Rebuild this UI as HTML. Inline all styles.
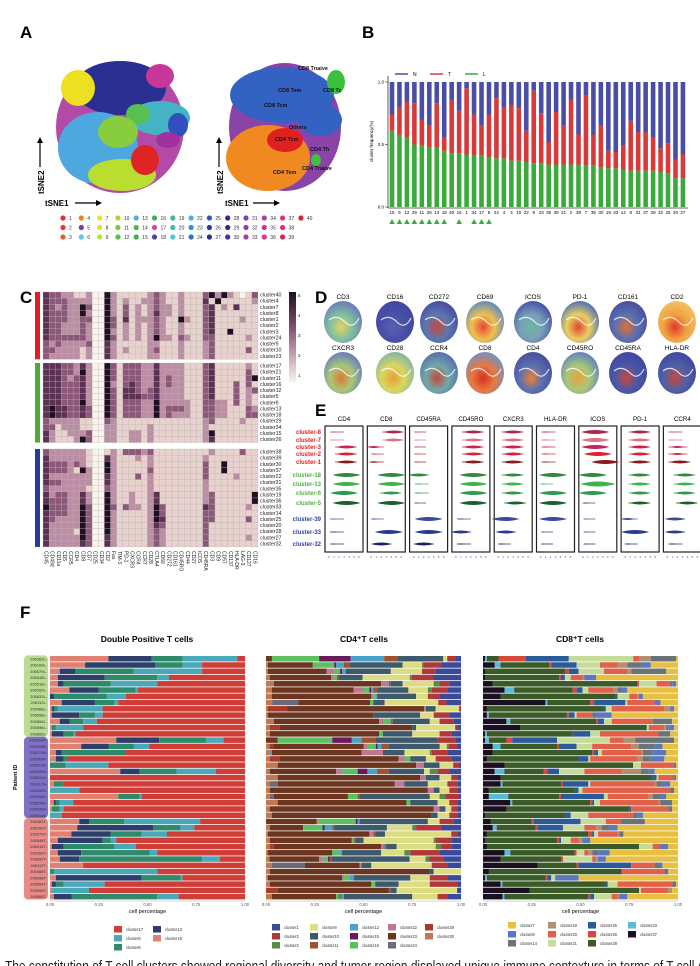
<!DOCTYPE html>
<html><head><meta charset="utf-8">
<style>
html,body{margin:0;padding:0;background:#fff;}
svg{display:block;font-family:"Liberation Sans",sans-serif;}
</style></head>
<body>
<svg id="fig" width="700" height="966" viewBox="0 0 700 966" xmlns="http://www.w3.org/2000/svg">
<defs>
<linearGradient id="cbar" x1="0" y1="0" x2="0" y2="1">
<stop offset="0" stop-color="#1e1020"/><stop offset="0.35" stop-color="#7a4468"/><stop offset="0.7" stop-color="#c8a0b4"/><stop offset="1" stop-color="#fbf4ea"/>
</linearGradient>
</defs>
<g>
<text x="20" y="38" font-size="17" font-weight="bold">A</text>
<g>
<ellipse cx="120" cy="127" rx="64" ry="66" fill="#b34aa8"/>
<ellipse cx="120" cy="88" rx="46" ry="27" fill="#2c2f92"/>
<ellipse cx="160" cy="76" rx="14" ry="12" fill="#c83898"/>
<ellipse cx="78" cy="88" rx="17" ry="18" fill="#ece020"/>
<ellipse cx="160" cy="118" rx="30" ry="17" fill="#44b4c4"/>
<ellipse cx="138" cy="114" rx="12" ry="10" fill="#58c050"/>
<ellipse cx="98" cy="148" rx="40" ry="36" fill="#4ea8e0"/>
<ellipse cx="118" cy="132" rx="20" ry="16" fill="#88cc40"/>
<ellipse cx="122" cy="175" rx="34" ry="16" fill="#bade30"/>
<ellipse cx="145" cy="160" rx="14" ry="15" fill="#e02424"/>
<ellipse cx="178" cy="125" rx="10" ry="12" fill="#3050c0"/>
<ellipse cx="168" cy="140" rx="12" ry="8" fill="#a030a0"/>
</g>
<g>
<ellipse cx="285" cy="127" rx="56" ry="64" fill="#8a44a8"/>
<ellipse cx="282" cy="95" rx="52" ry="28" fill="#3462c2"/>
<ellipse cx="320" cy="120" rx="22" ry="16" fill="#3462c2"/>
<ellipse cx="336" cy="82" rx="9" ry="12" fill="#3cc040"/>
<ellipse cx="268" cy="158" rx="42" ry="33" fill="#f08a20"/>
<ellipse cx="285" cy="140" rx="18" ry="12" fill="#e02020"/>
<ellipse cx="316" cy="160" rx="5" ry="6" fill="#40c040"/>
<g font-size="5.5" font-weight="bold" fill="#111">
<text x="298" y="70">CD8 Tnaive</text><text x="278" y="92">CD8 Tem</text><text x="323" y="92">CD8 Tc</text>
<text x="264" y="107">CD8 Tcm</text><text x="289" y="129">Others</text><text x="275" y="141">CD4 Tcm</text>
<text x="310" y="151">CD4 Th</text><text x="302" y="170">CD4 Tnaive</text><text x="273" y="174">CD4 Tem</text>
</g>
</g>
<g font-size="8" font-weight="bold">
<line x1="40" y1="167" x2="40" y2="142" stroke="#000" stroke-width="1.2"/><polygon points="37,143 43,143 40,137" fill="#000"/>
<text transform="translate(44,194) rotate(-90)">tSNE2</text>
<text x="45" y="206">tSNE1</text>
<line x1="75" y1="203" x2="97" y2="203" stroke="#000" stroke-width="1.2"/><polygon points="96,200 96,206 102,203" fill="#000"/>
<line x1="219" y1="167" x2="219" y2="142" stroke="#000" stroke-width="1.2"/><polygon points="216,143 222,143 219,137" fill="#000"/>
<text transform="translate(223,194) rotate(-90)">tSNE2</text>
<text x="225" y="206">tSNE1</text>
<line x1="253" y1="203" x2="275" y2="203" stroke="#000" stroke-width="1.2"/><polygon points="274,200 274,206 280,203" fill="#000"/>
</g>
<g id="aLegend"></g>
</g>
<g id="panelB">
<text x="362" y="38" font-size="17" font-weight="bold">B</text>
</g>
<g id="panelC">
<text x="20" y="303" font-size="17" font-weight="bold">C</text>
<rect x="289" y="292" width="7" height="90" fill="url(#cbar)"/>
<g font-size="4.5" fill="#222"><text x="298" y="297">5</text><text x="298" y="317">4</text><text x="298" y="337">3</text><text x="298" y="357">2</text><text x="298" y="377">1</text></g>
</g>
<g id="panelD">
<text x="315" y="303" font-size="17" font-weight="bold">D</text>
</g>
<g id="panelE">
<text x="315" y="416" font-size="17" font-weight="bold">E</text>
</g>
<g id="panelF">
<text x="20" y="618" font-size="17" font-weight="bold">F</text>
<text x="147" y="642" font-size="8.5" font-weight="bold" text-anchor="middle">Double Positive T cells</text>
<text x="364" y="642" font-size="8.5" font-weight="bold" text-anchor="middle">CD4⁺T cells</text>
<text x="580" y="642" font-size="8.5" font-weight="bold" text-anchor="middle">CD8⁺T cells</text>
<text transform="translate(17,790) rotate(-90)" font-size="5.5" font-weight="bold">Patient ID</text>
</g>
<text x="5" y="971" font-size="15" fill="#222" textLength="700" lengthAdjust="spacingAndGlyphs">The constitution of T cell clusters showed regional diversity and tumor region displayed unique immune contexture in terms of T cell A</text>
</svg>
<script>
// ---------- DATA ----------
const aClusterColors=["#e03030","#e03a30","#e85a2a","#f08020","#7a3ab0","#5ac8d8","#f0e020","#e4e020","#c0e030","#a8d830","#78c840","#60c040","#58a8e0","#48b848","#40b040","#3cb050","#e040a0","#5040b0","#40b8a0","#40b8b0","#50c8d0","#48b0e8","#3090e0","#3070d0","#3050c0","#2838a8","#283090","#283088","#302890","#4030a0","#8040b0","#8a40a8","#9a40a8","#b040a0","#c03898","#d83890","#e03080","#e03070","#e02050","#e02030"];
const bCategories=["15","5","12","29","11","26","13","18","40","16","1","34","17","6","24","4","3","10","22","9","23","36","39","21","2","38","7","35","30","19","33","14","8","31","37","28","32","25","20","27"];
const bL=[.61,.57,.56,.50,.49,.48,.48,.45,.43,.43,.42,.41,.41,.40,.39,.39,.37,.37,.36,.35,.35,.34,.34,.34,.34,.34,.33,.33,.32,.31,.31,.30,.29,.29,.29,.29,.28,.27,.23,.23];
const bT=[.13,.23,.28,.33,.21,.17,.35,.11,.43,.34,.53,.33,.24,.34,.48,.41,.45,.42,.25,.58,.40,.18,.42,.31,.52,.24,.56,.25,.33,.14,.13,.19,.40,.31,.31,.27,.19,.24,.15,.19];
const bMarked=[1,1,1,1,1,1,1,1,0,1,0,1,1,1,0,0,0,0,0,0,0,0,0,0,0,0,0,0,0,0,0,0,0,0,0,0,0,0,0,0];
const bTicks=[0,0.5,1];
const cMarkers=["CD45","CD49d","CD11a","CD5","CCR5","CD4","CD8","CD7","CD25","CD34","CD2","Fas","TIM-3","PD-1","CXCR3","CCR4","CCR7","CD28","CTLA4","CD69","CD272","CD161","CD45RO","CD44","CD27","ICOS","CD45RA","CD3","CD9","CD57","CD137","HLA-DR","LAG-3","CD127","CD16"];
const cRows1=["cluster40","cluster4","cluster7","cluster8","cluster1","cluster2","cluster3","cluster24","cluster9","cluster10","cluster23"];
const cRows2=["cluster17","cluster21","cluster11","cluster16","cluster12","cluster5","cluster6","cluster13","cluster18","cluster29","cluster34","cluster15","cluster26"];
const cRows3=["cluster38","cluster39","cluster30","cluster37","cluster22","cluster31","cluster35","cluster19","cluster36","cluster33","cluster14","cluster25","cluster20","cluster28","cluster27","cluster32"];
const cVals1=["43322 11200 52111 11232 11211 13525 21013","43332 22200 52121 12232 11211 14151 11112","43232 25300 52131 21232 21211 13412 14111","43332 25200 52131 21242 21211 13411 11111","43332 23300 53141 22232 11521 13411 11211","43322 23200 53121 21232 11211 13411 11111","43322 23200 52121 21232 11211 13411 51111","43333 33200 53121 21252 21321 13311 11121","32322 22300 42111 11221 11211 12311 11111","33222 21200 42121 11231 11211 12311 11131","32222 21200 42111 11221 11211 12311 11111"];
const cVals2=["44433 24200 53133 32242 22211 13411 11121","44433 25200 53133 32242 22211 13411 11131","44432 34200 53133 32242 32211 13411 11135","44433 34200 52134 32242 32211 13411 13131","44433 34200 53144 32342 22211 13411 13123","44433 34200 53144 43342 22211 13411 13121","44433 35200 53133 32252 22221 13322 13121","45443 34300 53133 32252 33321 13322 11132","45443 34300 53133 32252 32221 13322 11133","32222 21100 32111 11111 11111 12311 11211","33122 21100 22111 11211 11111 12111 11111","42112 22300 22112 21211 11111 12511 11111","42111 25300 22112 21211 11111 12411 11111"];
const cVals3=["32222 22100 12133 32311 11111 11211 11311","42222 22100 42111 21211 11111 12111 11111","43332 32100 52111 11211 11111 13115 11111","43332 15200 52111 11311 11111 13115 11111","42222 22200 42111 31211 11111 13111 12111","43322 22200 42111 11211 11111 12111 11111","32222 22100 32111 11211 11111 12111 11111","42332 24200 52112 11241 11111 12311 11115","43332 24200 52112 11241 11111 12311 11115","53332 25300 53132 21253 11111 14311 11121","43332 25300 52111 11253 11111 13311 11111","43222 25300 52111 11254 11111 13311 11131","42222 25300 52111 11243 11111 13111 11111","42222 15300 52111 11232 11111 13111 11111","42222 25300 42111 11232 11111 13111 11121","42222 24300 42111 11232 11111 13111 11111"];
const dMarkers1=["CD3","CD16","CD272","CD69","ICOS","PD-1","CD161","CD2"];
const dMarkers2=["CXCR3","CD28","CCR4","CD8","CD4","CD45RO","CD45RA","HLA-DR"];
const dColors1=[["#e8d060","#80c0a0","#6a80b8"],["#5a60b0","#4a50a8","#4048a0"],["#c84838","#5a78b0","#4a50a0"],["#e84830","#f0c050","#6a90b8"],["#6ab8a0","#78a0b8","#4a58a8"],["#e04830","#e8d060","#5a78b0"],["#e07030","#5a70b0","#4a50a0"],["#e03828","#f0a040","#f0c060"]];
const dColors2=[["#e07838","#a8c878","#6a80b8"],["#e8a030","#d8d860","#88b8a0"],["#c84838","#70a8a8","#5a70b0"],["#d83020","#e87840","#7a90b8"],["#f08030","#5a70b0","#4a50a0"],["#e8a040","#a8c878","#6a88b8"],["#c84838","#4a58a8","#4048a0"],["#c84838","#5060a8","#4048a0"]];
const eMarkers=["CD4","CD8","CD45RA","CD45RO","CXCR3","HLA-DR","ICOS","PD-1","CCR4"];
const eClusters=["cluster-8","cluster-7","cluster-3","cluster-2","cluster-1","cluster-18","cluster-13","cluster-6","cluster-5","cluster-39","cluster-33","cluster-32"];
const eMed=[
[1,1,3.5,3.5,3.5,3.5,3.5,3,3.5,1,1,1],
[4.5,4.5,0.5,0.5,0.5,4,4,4,4,0.5,3.5,2],
[0.5,0.5,0.5,0.5,0.5,1,1,1,0.5,3,3,2],
[3.5,3.5,3.5,3.5,3.5,3.5,3.5,3.5,3.5,1,1,1],
[3,3,3,3,3,3,3,3,3.5,1.5,1.5,0.5],
[1,1,1,1,1,2.5,0.5,2.5,2.5,2.5,0.5,0.5],
[2.5,2.5,2.5,3,4.5,2,3,2,0.5,0.5,0.5,0.5],
[3,3,3,3,3,3,3,3,3,0.5,2,0.5],
[1,1,2,2,2.5,3.5,3.5,3.5,4,1.5,1.5,1]];
const eAmp=[
[0.5,0.5,3,3,3,4,4,4,4,0.5,1,0.5],
[3,3,2,1,1.5,4,4,3,4,1,4,3],
[0.5,0.5,0.5,0.5,0.5,3,1,1,0.5,4,4,3],
[3,3,3,3,3,4,4,4,4,1,3,1],
[3,3,3,3,3,3,3,3,3,4,3,1],
[1,1,1,1,1,4,1,4,4,4,0.5,0.5],
[4,4,4,4,4,4,5,4,1,0.5,0.5,0.5],
[3,3,3,3,3,3,3,3,3,2,4,1],
[0.5,0.5,2,2,3,3,3,3,3,3,3,1]];
const fPatients=["206363","206169","205579","205548","205516","206260","205832","206112","205468","206998","205854","205596","205866"];
const fC18=[.30,.18,.05,.04,.04,.10,.00,.06,.01,.01,.05,.01,.01,.34,.16,.03,.03,.00,.36,.00,.02,.00,.35,.02,.01,.00,.15,.14,.11,.04,.01,.04,.05,.17,.00,.03,.01,.01,.02];
const fC13=[.22,.36,.08,.24,.03,.15,.02,.17,.01,.14,.05,.00,.06,.22,.14,.03,.04,.00,.10,.00,.00,.00,.00,.01,.00,.00,.05,.39,.20,.23,.06,.12,.10,.00,.00,.44,.02,.00,.09];
const fC6=[.16,.14,.30,.27,.24,.19,.27,.10,.02,.08,.07,.02,.05,.24,.13,.33,.02,.08,.19,.00,.05,.00,.11,.02,.04,.00,.18,.14,.16,.04,.26,.35,.63,.00,.02,.20,.04,.00,.44];
const fC5=[.28,.10,.35,.06,.24,.01,.10,.02,.23,.04,.07,.14,.01,.09,.08,.00,.00,.22,.20,.00,.00,.15,.01,.07,.02,.06,.39,.07,.13,.03,.11,.04,.09,.00,.53,.01,.21,.19,.11];
const fTicks=["0.00","0.25","0.50","0.75","1.00"];
const cd4Keys={a:"cluster1",b:"cluster2",c:"cluster3",i:"cluster9",j:"cluster10",k:"cluster11",l:"cluster12",o:"cluster15",p:"cluster16",v:"cluster22",w:"cluster23",x:"cluster24",y:"cluster29",z:"cluster30"};
const cd4Rows=["w.03 p.24 o.16 l.17 k.07 j.23 i.02 b.04 a.03","z.01 w.23 p.11 o.01 l.04 k.03 j.27 i.10 c.01 b.09 a.10","z.01 w.30 v.04 p.03 o.01 l.02 j.23 i.16 b.07 a.13","z.02 w.31 v.01 p.02 k.01 j.12 i.24 c.01 b.11 a.14","z.04 w.55 v.03 l.01 k.01 j.06 i.16 c.03 b.05 a.06","z.03 w.42 v.05 p.03 o.01 l.01 k.02 j.16 i.10 c.02 b.08 a.07","z.03 w.51 v.01 p.01 l.01 j.20 i.06 b.06 a.11","z.04 x.16 w.44 p.02 j.07 i.33 b.05 a.09","z.01 y.10 w.70 v.01 j.05 i.12 b.01","z.01 w.54 j.24 i.07 b.08 a.06","z.04 w.54 v.02 p.04 k.01 j.19 i.05 b.07 a.04","z.02 y.05 w.68 j.02 i.20 b.01 a.02","z.02 w.56 p.02 j.15 i.14 b.06 a.05","w.06 p.28 o.10 l.05 k.07 j.32 b.09 a.03","z.02 y.02 w.51 v.02 p.05 o.01 l.02 k.04 j.29 i.04 c.01 b.05 a.02","z.02 l.01 w.46 v.11 j.11 i.13 c.01 b.08 a.07","z.02 y.05 w.61 v.03 p.03 j.08 i.05 b.08 a.05","z.06 w.71 v.04 j.08 i.07 b.03 a.01","z.02 w.34 v.03 p.08 o.05 l.05 k.06 j.18 i.03 c.04 b.06 a.06","z.06 w.73 v.03 j.07 i.06 b.03 a.02","z.02 x.04 w.60 v.05 j.12 i.10 b.05 a.02","z.02 w.81 v.03 j.03 i.05 b.04 a.02","z.02 x.02 w.38 p.05 k.01 j.36 i.05 c.03 b.07 a.01","z.06 w.66 p.02 j.14 i.06 b.04 a.02","z.02 w.84 v.03 j.03 i.03 b.03 a.02","z.03 w.82 j.03 i.06 b.04 a.02","w.26 v.01 p.19 o.01 l.01 j.35 i.06 b.07 a.04","z.02 w.17 p.10 o.01 l.04 k.01 j.27 i.13 c.02 b.13 a.10","z.01 w.52 v.02 k.01 j.05 i.34 b.03 a.02","z.02 w.42 p.01 k.01 j.04 i.36 c.01 b.08 a.05","z.02 y.02 w.55 v.01 l.01 k.01 j.05 i.20 c.03 b.05 a.05","z.01 w.33 p.04 l.01 j.20 i.12 c.03 b.15 a.11","z.02 w.28 v.02 p.03 o.01 k.01 j.44 i.09 c.02 b.08 a.10","z.03 x.17 w.28 v.01 j.05 i.31 b.08 a.07","z.02 w.82 j.02 i.14","z.01 w.38 v.01 p.03 l.02 j.29 i.10 b.09 a.07","z.02 w.52 p.02 j.12 i.16 b.14 a.02","y.06 w.57 k.01 j.03 i.31 a.02","z.03 w.33 p.01 c.02 l.01 j.35 i.13 b.05 a.07"];
const cd8Keys={A:"cluster37",B:"cluster33",C:"cluster28",D:"cluster26",E:"cluster25",F:"cluster21",G:"cluster20",H:"cluster19",I:"cluster14",J:"cluster8",K:"cluster7"};
const cd8Rows=["A.01 B.01 C.06 D.14 E.22 F.33 G.03 H.06 I.13 K.01","A.06 B.03 C.25 D.01 E.13 F.12 G.09 H.05 I.07 J.05 K.14","A.01 C.41 D.02 E.05 F.13 G.12 H.02 I.18 K.06","A.01 C.38 D.01 E.02 F.03 G.06 H.01 J.06 K.42","A.05 C.74 D.01 F.09 G.07 I.01 J.02 K.01","A.11 B.05 C.30 D.02 E.03 F.03 G.13 H.02 I.02 J.03 K.26","A.09 C.59 E.01 F.06 G.04 H.01 J.02 K.18","A.32 B.01 C.22 D.02 E.16 F.01 G.14 J.03 K.09","A.02 C.60 E.01 F.03 G.27 H.03 J.02 K.02","A.02 B.01 C.40 D.01 E.03 F.01 G.08 I.02 J.08 K.34","A.12 B.02 C.44 D.01 E.03 F.04 G.21 I.10 K.03","A.19 C.65 F.01 G.08 H.01 I.01 J.03 K.02","A.01 B.01 C.44 E.09 F.05 G.30 I.06 K.04","A.01 B.02 C.09 D.03 E.23 F.27 G.07 H.06 I.20 K.02","A.05 B.04 C.29 D.01 E.09 F.08 G.20 H.04 I.08 J.04 K.08","A.05 C.51 D.01 E.02 F.02 G.20 H.01 I.05 J.07 K.06","A.02 C.47 E.05 F.01 G.24 H.03 I.04 J.07 K.07","A.11 C.66 F.04 G.17 I.01 K.01","A.06 B.05 C.20 D.02 E.06 F.13 G.19 H.10 I.04 J.03 K.12","A.09 C.78 E.02 F.01 G.08 I.01 K.01","A.09 B.01 C.30 D.01 E.13 F.01 G.33 H.01 I.03 J.04 K.04","A.03 C.44 E.02 F.02 G.45 I.02 K.02","A.03 B.10 C.26 D.01 E.22 F.02 G.21 H.02 I.04 J.03 K.06","A.14 B.01 C.40 D.01 E.01 F.03 G.30 H.01 I.06 K.03","A.12 C.63 E.01 G.19 I.02 K.03","A.01 C.41 E.03 F.09 G.23 I.02 J.03 K.18","A.04 C.21 D.01 E.24 F.13 G.08 I.12 K.17","A.05 B.02 C.20 D.01 E.13 F.11 G.06 H.03 I.04 J.04 K.31","A.02 C.52 D.02 E.01 F.02 G.10 H.01 I.02 K.28","A.01 C.37 D.01 E.01 F.05 G.04 H.02 J.04 K.45","A.02 C.78 F.07 G.04 J.04 K.05","A.11 B.03 C.33 D.01 F.04 G.02 H.02 I.03 J.06 K.35","A.09 C.31 D.01 F.15 G.02 H.01 J.04 K.37","A.28 C.20 D.01 E.27 G.12 I.02 J.02 K.08","A.03 C.68 G.22 I.02 K.05","A.01 B.01 C.30 D.01 E.02 F.02 J.12 K.51","A.09 B.01 C.53 E.01 F.05 G.28 I.02 K.01","A.24 C.56 F.01 G.14 H.02 K.03","A.10 B.01 C.43 D.01 E.02 F.09 G.03 H.01 J.04 K.26"];
// ---------- STYLE MAPS ----------
const dpColors={cluster17:"#d03c36",cluster5:"#4aa8b8",cluster6:"#2e8a6a",cluster13:"#2e3e6a",cluster18:"#e08070"};
const cd4Colors={cluster1:"#3a4a9a",cluster2:"#b03838",cluster3:"#5a8a4a",cluster9:"#dcdc80",cluster10:"#3e5a6a",cluster11:"#a0522d",cluster12:"#4aa0c8",cluster15:"#6a1a5a",cluster16:"#5ac060",cluster22:"#c07890",cluster23:"#6b3520",cluster24:"#6a6a7a",cluster29:"#a83a2a",cluster30:"#c07850"};
const cd8Colors={cluster7:"#e8c040",cluster8:"#5a78c0",cluster14:"#6a7478",cluster19:"#b09070",cluster20:"#e06048",cluster21:"#c4dc98",cluster25:"#2a5a98",cluster26:"#d84838",cluster28:"#3a5a28",cluster33:"#5ab8d8",cluster37:"#1a1020"};
const NS="http://www.w3.org/2000/svg";
function mk(tag,parent,attrs){const e=document.createElementNS(NS,tag);for(const k in attrs)e.setAttribute(k,attrs[k]);parent.appendChild(e);return e;}
function tx(parent,x,y,s,size,extra){const e=mk("text",parent,Object.assign({x:x,y:y,"font-size":size},extra||{}));e.textContent=s;return e;}
// ---------- PANEL A LEGEND ----------
(function(){
const g=document.getElementById("aLegend");
aClusterColors.forEach((c,i)=>{
 const col=Math.floor(i/3),row=i%3;const x=63+col*18.3,y=218+row*9.5;
 const d=mk("circle",g,{cx:x,cy:y,r:2.6,fill:c});
 
 
 const t=tx(g,x+6,y+1.8,String(i+1),5,{fill:"#333"});
 
 
});
})();
// ---------- PANEL B ----------
(function(){
const g=document.getElementById("panelB");
const y0=207,yH=125;const yB=v=>y0-v*yH;const xB=i=>392+i*7.46;
const ax=mk("line",g,{x1:388,y1:76,x2:388,y2:208,stroke:"#333","stroke-width":0.8});


const xx=mk("line",g,{x1:388,y1:208,x2:688,y2:208,stroke:"#333","stroke-width":0.8});


bTicks.forEach(v=>{mk("line",g,{x1:385,y1:yB(v),x2:388,y2:yB(v),stroke:"#333","stroke-width":0.6});
 const t=tx(g,384,yB(v)+1.6,v.toFixed(1),4.5,{"text-anchor":"end"});
 
 });
const yl=tx(g,0,0,"cluster frequency(%)",4.5,{transform:"translate(373,162) rotate(-90)"});


bCategories.forEach((c,i)=>{
 const x=xB(i)-2.3,w=4.6,l=bL[i],t=bL[i]+bT[i];
 const r1=mk("rect",g,{x:x,y:yB(l),width:w,height:yB(0)-yB(l),fill:"#3aaa3a"});
 
 
 const r2=mk("rect",g,{x:x,y:yB(t),width:w,height:yB(l)-yB(t),fill:"#d83a3a"});
 
 
 const r3=mk("rect",g,{x:x,y:yB(1),width:w,height:yB(t)-yB(1),fill:"#4a4ea6"});
 
 
 const lb=tx(g,xB(i),214,c,4.5,{"text-anchor":"middle"});
 
 
 if(bMarked[i]){const tr=mk("polygon",g,{points:(xB(i)-2.8)+",224 "+(xB(i)+2.8)+",224 "+xB(i)+",219",fill:"#3aaa3a"});
  
  }
});
[["N","#4a4ea6",395],["T","#d83a3a",430],["L","#3aaa3a",465]].forEach(a=>{
 const ln=mk("line",g,{x1:a[2],y1:74,x2:a[2]+13,y2:74,stroke:a[1],"stroke-width":1.5});
 
 
 const t=tx(g,a[2]+18,75.8,a[0],5);
 
 
});
})();
// ---------- PANEL C ----------
(function(){
const g=document.getElementById("panelC");
const x0=43,cw=215/35,rh=6.12;
const col=v=>{const st=[[0,[251,244,234]],[1,[232,210,206]],[2,[188,142,164]],[3,[140,88,122]],[4,[92,50,84]],[5,[30,16,32]]];
 const i=Math.min(4,Math.floor(v));const f=v-i;const a=st[i][1],b=st[i+1][1];
 return "rgb("+a.map((q,k)=>Math.round(q+(b[k]-q)*f)).join(",")+")";};
const blocks=[[cRows1,cVals1,292,"#e02020"],[cRows2,cVals2,363,"#4caa3a"],[cRows3,cVals3,449,"#2a3a9a"]];
blocks.forEach((b,bi)=>{
 const [rows,vals,yTop,bc]=b;
 const bar=mk("rect",g,{x:35,y:yTop,width:5,height:rows.length*rh,fill:bc});
 
 
 rows.forEach((r,ri)=>{
  const s=vals[ri].replace(/ /g,"").padEnd(35,"1");
  for(let ci=0;ci<35;ci++){
   const c=mk("rect",g,{x:x0+ci*cw,y:yTop+ri*rh,width:cw,height:rh,fill:col(+s[ci]),stroke:"#b8b0b0","stroke-width":0.3});
   
   
  }
  const t=tx(g,260,yTop+ri*rh+4.6,r,5.3,{fill:"#222"});
  
  
 });
});
cMarkers.forEach((m,ci)=>{
 const t=tx(g,0,0,m,5,{transform:"translate("+(x0+ci*cw+cw/2-1.6)+",551) rotate(90)",fill:"#222"});
 
 
});
})();
// ---------- PANEL D ----------
(function(){
const g=document.getElementById("panelD");const defs=document.querySelector("defs");
const xs=[343,395,439,485,533,580,628,677];
[[dMarkers1,dColors1,299,322],[dMarkers2,dColors2,350,373]].forEach((row,ri)=>{
 row[0].forEach((m,i)=>{
  const id="dg"+ri+"_"+i;const cs=row[1][i];
  const gr=mk("radialGradient",defs,{id:id,cx:"0.45",cy:"0.62",r:"0.6"});
  mk("stop",gr,{offset:"0","stop-color":cs[0]});mk("stop",gr,{offset:"0.5","stop-color":cs[1]});mk("stop",gr,{offset:"1","stop-color":cs[2]});
  const e=mk("ellipse",g,{cx:xs[i],cy:row[3],rx:19,ry:21,fill:"url(#"+id+")"});
  
  
  mk("path",g,{d:"M"+(xs[i]-14)+" "+(row[3]-2)+" q8 -6 16 2 t14 -4",stroke:"#fff","stroke-width":1.2,fill:"none",opacity:0.8});
  const t=tx(g,xs[i],row[2],m,6.5,{"text-anchor":"middle"});
  
  
 });
});
})();
// ---------- PANEL E ----------
(function(){
const g=document.getElementById("panelE");
const rowY=[432,440,447,454,462,475,484,493,503,519,532,544];
const vcol=["#b02848","#e07080","#c8205a","#e02030","#8b1a1a","#2e8b3e","#3cb44a","#2e9950","#1e5e2a","#3a4aa0","#2a3a90","#1a2060"];
const lcol=i=>i<5?"#e02020":(i<9?"#50b040":"#3040a0");
eClusters.forEach((c,i)=>{const t=tx(g,321,rowY[i]+2,c,6,{"text-anchor":"end","font-weight":"bold",fill:lcol(i)});
 
 });
eMarkers.forEach((m,mi)=>{
 const bx=325+mi*42.3,bw=38;const xv=v=>bx+4+v*(bw-8)/6;
 const box=mk("rect",g,{x:bx,y:426,width:bw,height:126,fill:"none",stroke:"#222","stroke-width":1.2});
 
 
 const t=tx(g,bx+bw/2,421,m,6.2,{"text-anchor":"middle"});
 
 
 for(let k=0;k<=6;k++){tx(g,xv(k),558,String(k),2.8,{"text-anchor":"middle",fill:"#3040a0"});}
 eClusters.forEach((c,i)=>{
  const med=eMed[mi][i],amp=eAmp[mi][i],y=rowY[i];
  const lo=Math.max(0.2,med-2.3),hi=Math.min(5.9,med+2);
  const ln=mk("line",g,{x1:xv(lo),y1:y,x2:xv(hi),y2:y,stroke:vcol[i],"stroke-width":0.7});
  
  
  const w=Math.max(1.5,amp*2.2);
  const p=mk("path",g,{d:"M"+(xv(med)-w*1.6)+" "+y+" Q"+xv(med)+" "+(y-amp)+" "+(xv(med)+w*1.6)+" "+y+" Q"+xv(med)+" "+(y+amp)+" "+(xv(med)-w*1.6)+" "+y+"Z",fill:vcol[i]});
  
  
 });
});
})();
// ---------- PANEL F ----------
(function(){
const g=document.getElementById("panelF");
const yF=r=>656+r*6.26,rh=5.5;
function segs(x0,x1,row,colors,name){
 const tot=row.reduce((s,a)=>s+a[1],0);let acc=0;
 row.forEach(a=>{const xa=x0+acc/tot*(x1-x0);acc+=a[1];const xb=x0+acc/tot*(x1-x0);
  if(xb-xa<=0)return;
  const r=mk("rect",g,{x:xa,y:yF(name.r),width:xb-xa+0.05,height:rh,fill:colors[a[0]]});
  
  });
}
function axis(x0,x1){
 const ln=mk("line",g,{x1:x0,y1:901,x2:x1,y2:901,stroke:"#999","stroke-width":0.4});
 
 
 fTicks.forEach((t,i)=>{const x=x0+i*(x1-x0)/4;const e=tx(g,x,906,t,4.2,{"text-anchor":"middle",fill:"#555"});
  
  });
 const e=tx(g,(x0+x1)/2,913,"cell percentage",5.5,{"text-anchor":"middle"});
 
 
}
[["#b8dc90","L"],["#8070c8","N"],["#e88a88","T"]].forEach((b,bi)=>{
 const bx=mk("rect",g,{x:24,y:yF(bi*13)-0.6,width:24,height:13*6.26,rx:4,fill:b[0]});
 
 
 fPatients.forEach((p,i)=>{const t=tx(g,47,yF(bi*13+i)+4.3,p+b[1]+"-",4,{"text-anchor":"end",fill:"#333"});
  
  });
});
for(let r=0;r<39;r++){
 const c17=Math.max(0,1-fC18[r]-fC13[r]-fC6[r]-fC5[r]);
 segs(50,245,[["cluster18",fC18[r]],["cluster13",fC13[r]],["cluster6",fC6[r]],["cluster5",fC5[r]],["cluster17",c17]],dpColors,{r:r,p:"dp"});
 const r4=cd4Rows[r].split(" ").map(s=>[cd4Keys[s[0]],parseFloat(s.slice(1))]);
 segs(266,461,r4,cd4Colors,{r:r,p:"cd4"});
 const r8=cd8Rows[r].split(" ").map(s=>[cd8Keys[s[0]],parseFloat(s.slice(1))]);
 segs(483,678,r8,cd8Colors,{r:r,p:"cd8"});
}
axis(50,245);axis(266,461);axis(483,678);
function legend(items,colors,xs,ys){
 items.forEach((col,ci)=>col.forEach((k,ri)=>{
  const r=mk("rect",g,{x:xs[ci],y:ys[ri],width:8,height:6.5,fill:colors[k]});
  
  
  const t=tx(g,xs[ci]+12,ys[ri]+5,k,4.2,{fill:"#333"});
  
  
 }));
}
legend([["cluster17","cluster5","cluster6"],["cluster13","cluster18"]],dpColors,[114,153],[926,935,944]);
legend([["cluster1","cluster2","cluster3"],["cluster9","cluster10","cluster11"],["cluster12","cluster15","cluster16"],["cluster22","cluster23","cluster24"],["cluster29","cluster30"]],cd4Colors,[272,310,350,388,425],[924,933,942]);
legend([["cluster7","cluster8","cluster14"],["cluster19","cluster20","cluster21"],["cluster25","cluster26","cluster28"],["cluster33","cluster37"]],cd8Colors,[508,548,588,628],[922,931,940]);
})();
</script>
</body></html>
